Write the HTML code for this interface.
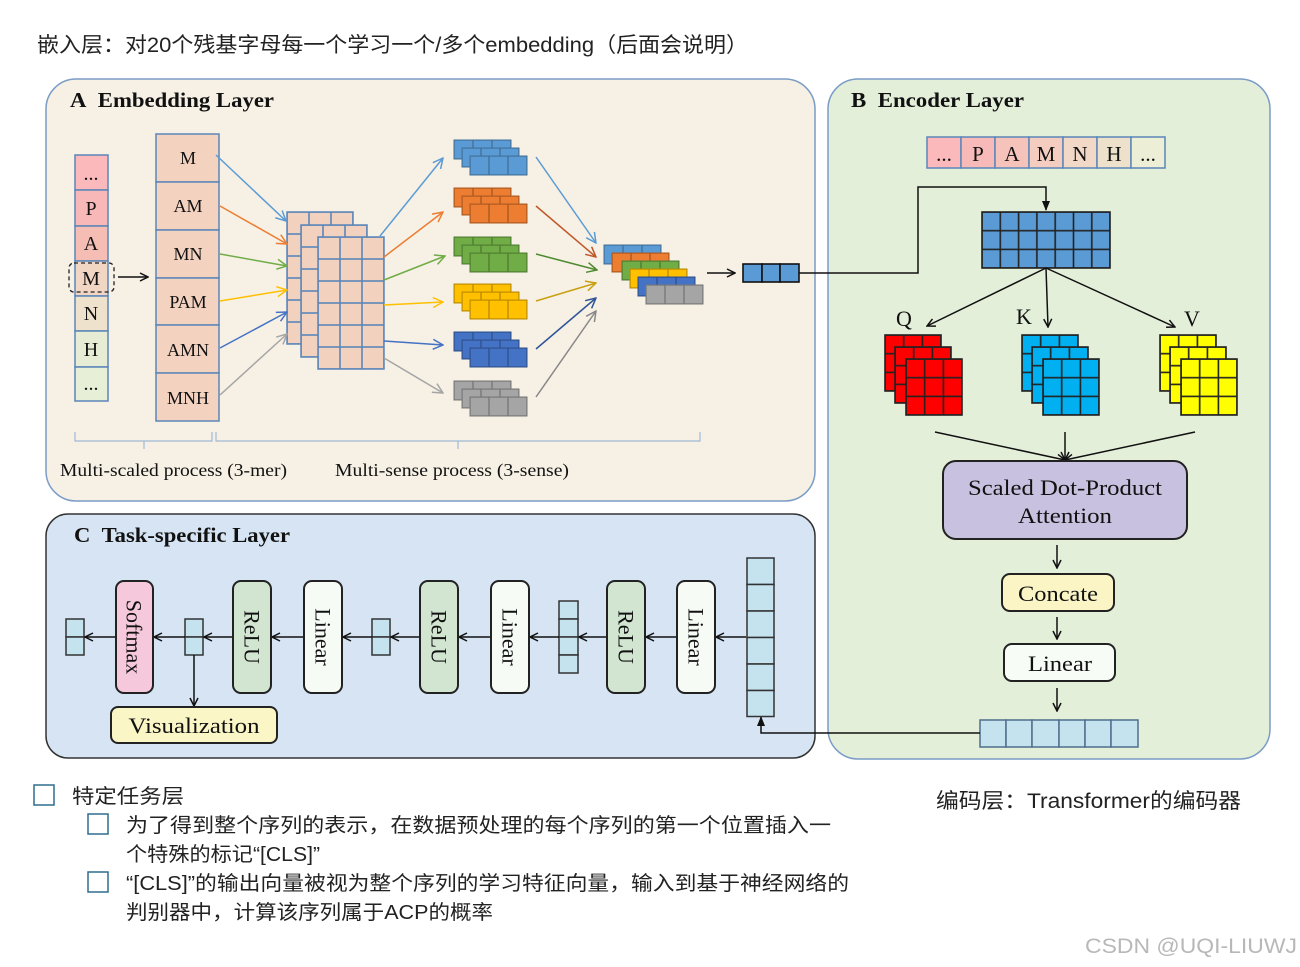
<!DOCTYPE html>
<html><head><meta charset="utf-8"><style>
html,body{margin:0;padding:0;background:#fff;}
svg{display:block;}
.s{font-family:"Liberation Serif","DejaVu Serif",serif;fill:#111;}
.c{font-family:"Liberation Sans","Noto Sans CJK SC",sans-serif;fill:#222;}
</style></head><body>
<svg width="1300" height="967" viewBox="0 0 1300 967" xmlns="http://www.w3.org/2000/svg">
<defs>
<marker id="ab" markerWidth="10" markerHeight="10" refX="9" refY="5" orient="auto" markerUnits="userSpaceOnUse"><path d="M1,1 L9,5 L1,9" fill="none" stroke="#111" stroke-width="1.5"/></marker>
<marker id="af" markerWidth="10" markerHeight="10" refX="9" refY="5" orient="auto" markerUnits="userSpaceOnUse"><path d="M0,1 L10,5 L0,9 z" fill="#111"/></marker>
<marker id="m1" markerWidth="12" markerHeight="12" refX="11" refY="6" orient="auto" markerUnits="userSpaceOnUse"><path d="M1,1 L11,6 L1,11" fill="none" stroke="#5b9bd5" stroke-width="1.5"/></marker>
<marker id="m2" markerWidth="12" markerHeight="12" refX="11" refY="6" orient="auto" markerUnits="userSpaceOnUse"><path d="M1,1 L11,6 L1,11" fill="none" stroke="#ed7d31" stroke-width="1.5"/></marker>
<marker id="m3" markerWidth="12" markerHeight="12" refX="11" refY="6" orient="auto" markerUnits="userSpaceOnUse"><path d="M1,1 L11,6 L1,11" fill="none" stroke="#70ad47" stroke-width="1.5"/></marker>
<marker id="m4" markerWidth="12" markerHeight="12" refX="11" refY="6" orient="auto" markerUnits="userSpaceOnUse"><path d="M1,1 L11,6 L1,11" fill="none" stroke="#ffc000" stroke-width="1.5"/></marker>
<marker id="m5" markerWidth="12" markerHeight="12" refX="11" refY="6" orient="auto" markerUnits="userSpaceOnUse"><path d="M1,1 L11,6 L1,11" fill="none" stroke="#4472c4" stroke-width="1.5"/></marker>
<marker id="m6" markerWidth="12" markerHeight="12" refX="11" refY="6" orient="auto" markerUnits="userSpaceOnUse"><path d="M1,1 L11,6 L1,11" fill="none" stroke="#a5a5a5" stroke-width="1.5"/></marker>
<marker id="m2d" markerWidth="12" markerHeight="12" refX="11" refY="6" orient="auto" markerUnits="userSpaceOnUse"><path d="M1,1 L11,6 L1,11" fill="none" stroke="#c0582a" stroke-width="1.5"/></marker>
<marker id="m3d" markerWidth="12" markerHeight="12" refX="11" refY="6" orient="auto" markerUnits="userSpaceOnUse"><path d="M1,1 L11,6 L1,11" fill="none" stroke="#4e8a2e" stroke-width="1.5"/></marker>
<marker id="m4d" markerWidth="12" markerHeight="12" refX="11" refY="6" orient="auto" markerUnits="userSpaceOnUse"><path d="M1,1 L11,6 L1,11" fill="none" stroke="#c9a010" stroke-width="1.5"/></marker>
<marker id="m5d" markerWidth="12" markerHeight="12" refX="11" refY="6" orient="auto" markerUnits="userSpaceOnUse"><path d="M1,1 L11,6 L1,11" fill="none" stroke="#2f5597" stroke-width="1.5"/></marker>
<marker id="m6d" markerWidth="12" markerHeight="12" refX="11" refY="6" orient="auto" markerUnits="userSpaceOnUse"><path d="M1,1 L11,6 L1,11" fill="none" stroke="#888" stroke-width="1.5"/></marker>

<pattern id="pk" width="22" height="22" patternUnits="userSpaceOnUse"><rect width="22" height="22" fill="#f3d1bf" stroke="#5b86b8" stroke-width="1.6"/></pattern>
<pattern id="sb" width="19" height="19" patternUnits="userSpaceOnUse"><rect width="19" height="19" fill="#5b9bd5" stroke="#41719c" stroke-width="1.4"/></pattern>
<pattern id="so" width="19" height="19" patternUnits="userSpaceOnUse"><rect width="19" height="19" fill="#ed7d31" stroke="#ae5a21" stroke-width="1.4"/></pattern>
<pattern id="sg" width="19" height="19" patternUnits="userSpaceOnUse"><rect width="19" height="19" fill="#70ad47" stroke="#507e32" stroke-width="1.4"/></pattern>
<pattern id="sy" width="19" height="19" patternUnits="userSpaceOnUse"><rect width="19" height="19" fill="#ffc000" stroke="#bc8c00" stroke-width="1.4"/></pattern>
<pattern id="sd" width="19" height="19" patternUnits="userSpaceOnUse"><rect width="19" height="19" fill="#4472c4" stroke="#2f528f" stroke-width="1.4"/></pattern>
<pattern id="sa" width="19" height="19" patternUnits="userSpaceOnUse"><rect width="19" height="19" fill="#a5a5a5" stroke="#787878" stroke-width="1.4"/></pattern>
<pattern id="eb" width="18.3" height="18.7" patternUnits="userSpaceOnUse"><rect width="18.3" height="18.7" fill="#5b9bd5" stroke="#222" stroke-width="1.6"/></pattern>
<pattern id="qr" width="18.7" height="18.7" patternUnits="userSpaceOnUse"><rect width="18.7" height="18.7" fill="#ff0000" stroke="#222" stroke-width="1.6"/></pattern>
<pattern id="kc" width="18.7" height="18.7" patternUnits="userSpaceOnUse"><rect width="18.7" height="18.7" fill="#00b0f0" stroke="#222" stroke-width="1.6"/></pattern>
<pattern id="vy" width="18.7" height="18.7" patternUnits="userSpaceOnUse"><rect width="18.7" height="18.7" fill="#ffff00" stroke="#222" stroke-width="1.6"/></pattern>
</defs>

<rect width="1300" height="967" fill="#fff"/>
<text class="c" x="37" y="52" font-size="21" textLength="711" lengthAdjust="spacingAndGlyphs">嵌入层：对20个残基字母每一个学习一个/多个embedding（后面会说明）</text>

<rect x="46" y="79" width="769" height="422" rx="30" fill="#f6f0e5" stroke="#7a9cc6" stroke-width="1.5"/>
<rect x="828" y="79" width="442" height="680" rx="30" fill="#e4efda" stroke="#7a9cc6" stroke-width="1.5"/>
<rect x="46" y="514" width="769" height="244" rx="22" fill="#d6e4f4" stroke="#333" stroke-width="1.5"/>

<!-- Panel A -->
<text class="s" x="70" y="107" font-size="21" font-weight="bold" textLength="204" lengthAdjust="spacingAndGlyphs">A&#160;&#160;Embedding Layer</text>
<g stroke="#5b86b8" stroke-width="1.5">
<rect x="75" y="155" width="33" height="35" fill="#fbb9bb"/>
<rect x="75" y="190" width="33" height="36" fill="#f9b8b8"/>
<rect x="75" y="226" width="33" height="35" fill="#f5bdb3"/>
<rect x="75" y="261" width="33" height="35" fill="#f1d6c4"/>
<rect x="75" y="296" width="33" height="35" fill="#efe2cc"/>
<rect x="75" y="331" width="33" height="36" fill="#e7ecd5"/>
<rect x="75" y="367" width="33" height="34" fill="#e8efd7"/>
</g>
<g class="s" font-size="20" text-anchor="middle">
<text x="91" y="180">...</text><text x="91" y="215">P</text><text x="91" y="250">A</text><text x="91" y="285">M</text>
<text x="91" y="320">N</text><text x="91" y="356">H</text><text x="91" y="390">...</text>
</g>
<rect x="69" y="263" width="45" height="29" rx="5" fill="none" stroke="#222" stroke-width="1.3" stroke-dasharray="4,3"/>
<line x1="118" y1="277" x2="148" y2="277" stroke="#111" stroke-width="1.5" marker-end="url(#ab)"/>

<g stroke="#5b86b8" stroke-width="1.5" fill="#f4d2c0">
<rect x="156" y="134" width="63" height="48"/><rect x="156" y="182" width="63" height="48"/>
<rect x="156" y="230" width="63" height="48"/><rect x="156" y="278" width="63" height="47"/>
<rect x="156" y="325" width="63" height="48"/><rect x="156" y="373" width="63" height="48"/>
</g>
<g class="s" font-size="18" text-anchor="middle">
<text x="188" y="164">M</text><text x="188" y="212">AM</text><text x="188" y="260">MN</text>
<text x="188" y="308">PAM</text><text x="188" y="356">AMN</text><text x="188" y="404">MNH</text>
</g>

<g transform="translate(287,212)"><rect width="66" height="132" fill="url(#pk)" stroke="#5b86b8" stroke-width="1.5"/></g>
<g transform="translate(301,225)"><rect width="66" height="132" fill="url(#pk)" stroke="#5b86b8" stroke-width="1.5"/></g>
<g transform="translate(318,237)"><rect width="66" height="132" fill="url(#pk)" stroke="#5b86b8" stroke-width="1.5"/></g>

<g stroke-width="1.5" fill="none">
<line x1="216" y1="155" x2="286" y2="221" stroke="#5b9bd5" marker-end="url(#m1)"/>
<line x1="220" y1="206" x2="287" y2="244" stroke="#ed7d31" marker-end="url(#m2)"/>
<line x1="220" y1="254" x2="287" y2="266" stroke="#70ad47" marker-end="url(#m3)"/>
<line x1="220" y1="301" x2="287" y2="290" stroke="#ffc000" marker-end="url(#m4)"/>
<line x1="220" y1="348" x2="287" y2="312" stroke="#4472c4" marker-end="url(#m5)"/>
<line x1="220" y1="395" x2="287" y2="334" stroke="#a5a5a5" marker-end="url(#m6)"/>
<line x1="380" y1="236" x2="443" y2="158" stroke="#5b9bd5" marker-end="url(#m1)"/>
<line x1="384" y1="257" x2="443" y2="212" stroke="#ed7d31" marker-end="url(#m2)"/>
<line x1="384" y1="280" x2="445" y2="256" stroke="#70ad47" marker-end="url(#m3)"/>
<line x1="384" y1="305" x2="443" y2="302" stroke="#ffc000" marker-end="url(#m4)"/>
<line x1="384" y1="341" x2="443" y2="345" stroke="#4472c4" marker-end="url(#m5)"/>
<line x1="384" y1="358" x2="443" y2="393" stroke="#a5a5a5" marker-end="url(#m6)"/>
<line x1="536" y1="157" x2="596" y2="243" stroke="#5b9bd5" marker-end="url(#m1)"/>
<line x1="536" y1="206" x2="596" y2="257" stroke="#c0582a" marker-end="url(#m2d)"/>
<line x1="536" y1="254" x2="597" y2="270" stroke="#4e8a2e" marker-end="url(#m3d)"/>
<line x1="536" y1="301" x2="596" y2="283" stroke="#c9a010" marker-end="url(#m4d)"/>
<line x1="536" y1="349" x2="596" y2="298" stroke="#2f5597" marker-end="url(#m5d)"/>
<line x1="536" y1="397" x2="596" y2="311" stroke="#888" marker-end="url(#m6d)"/>
</g>

<g transform="translate(454,140)"><rect width="57" height="19" fill="url(#sb)" stroke="#41719c"/><g transform="translate(8,8)"><rect width="57" height="19" fill="url(#sb)" stroke="#41719c"/></g><g transform="translate(16,16)"><rect width="57" height="19" fill="url(#sb)" stroke="#41719c"/></g></g>
<g transform="translate(454,188)"><rect width="57" height="19" fill="url(#so)" stroke="#ae5a21"/><g transform="translate(8,8)"><rect width="57" height="19" fill="url(#so)" stroke="#ae5a21"/></g><g transform="translate(16,16)"><rect width="57" height="19" fill="url(#so)" stroke="#ae5a21"/></g></g>
<g transform="translate(454,237)"><rect width="57" height="19" fill="url(#sg)" stroke="#507e32"/><g transform="translate(8,8)"><rect width="57" height="19" fill="url(#sg)" stroke="#507e32"/></g><g transform="translate(16,16)"><rect width="57" height="19" fill="url(#sg)" stroke="#507e32"/></g></g>
<g transform="translate(454,284)"><rect width="57" height="19" fill="url(#sy)" stroke="#bc8c00"/><g transform="translate(8,8)"><rect width="57" height="19" fill="url(#sy)" stroke="#bc8c00"/></g><g transform="translate(16,16)"><rect width="57" height="19" fill="url(#sy)" stroke="#bc8c00"/></g></g>
<g transform="translate(454,332)"><rect width="57" height="19" fill="url(#sd)" stroke="#2f528f"/><g transform="translate(8,8)"><rect width="57" height="19" fill="url(#sd)" stroke="#2f528f"/></g><g transform="translate(16,16)"><rect width="57" height="19" fill="url(#sd)" stroke="#2f528f"/></g></g>
<g transform="translate(454,381)"><rect width="57" height="19" fill="url(#sa)" stroke="#787878"/><g transform="translate(8,8)"><rect width="57" height="19" fill="url(#sa)" stroke="#787878"/></g><g transform="translate(16,16)"><rect width="57" height="19" fill="url(#sa)" stroke="#787878"/></g></g>

<g transform="translate(604,245)"><rect width="57" height="19" fill="url(#sb)" stroke="#41719c"/></g>
<g transform="translate(612,253)"><rect width="57" height="19" fill="url(#so)" stroke="#ae5a21"/></g>
<g transform="translate(622,261)"><rect width="57" height="19" fill="url(#sg)" stroke="#507e32"/></g>
<g transform="translate(630,269)"><rect width="57" height="19" fill="url(#sy)" stroke="#bc8c00"/></g>
<g transform="translate(638,277)"><rect width="57" height="19" fill="url(#sd)" stroke="#2f528f"/></g>
<g transform="translate(646,285)"><rect width="57" height="19" fill="url(#sa)" stroke="#787878"/></g>

<line x1="707" y1="273" x2="735" y2="273" stroke="#111" stroke-width="1.5" marker-end="url(#ab)"/>
<g stroke="#111" stroke-width="1.6" fill="#5b9bd5"><rect x="743" y="264" width="19" height="18"/><rect x="762" y="264" width="18" height="18"/><rect x="780" y="264" width="19" height="18"/></g>
<polyline points="799,273 918,273 918,187 1046,187 1046,210" fill="none" stroke="#111" stroke-width="1.5" marker-end="url(#af)"/>

<path d="M75,432 V441 H144 V449 M144,441 H212 V432" fill="none" stroke="#9fb9d8" stroke-width="1.2"/>
<path d="M216,432 V441 H458 V449 M458,441 H700 V432" fill="none" stroke="#9fb9d8" stroke-width="1.2"/>
<text class="s" x="60" y="476" font-size="18" textLength="227" lengthAdjust="spacingAndGlyphs">Multi-scaled process (3-mer)</text>
<text class="s" x="335" y="476" font-size="18" textLength="234" lengthAdjust="spacingAndGlyphs">Multi-sense process (3-sense)</text>

<!-- Panel B -->
<text class="s" x="851" y="107" font-size="21" font-weight="bold" textLength="173" lengthAdjust="spacingAndGlyphs">B&#160;&#160;Encoder Layer</text>
<g stroke="#5b86b8" stroke-width="1.5">
<rect x="927" y="137" width="34" height="31" fill="#fbb9bb"/><rect x="961" y="137" width="34" height="31" fill="#f8b9b9"/>
<rect x="995" y="137" width="34" height="31" fill="#f6c3bb"/><rect x="1029" y="137" width="34" height="31" fill="#f4cdc0"/>
<rect x="1063" y="137" width="34" height="31" fill="#f2d8c6"/><rect x="1097" y="137" width="34" height="31" fill="#eee1cc"/>
<rect x="1131" y="137" width="34" height="31" fill="#ecefd6"/>
</g>
<g class="s" font-size="21" text-anchor="middle">
<text x="944" y="161">...</text><text x="978" y="161">P</text><text x="1012" y="161">A</text><text x="1046" y="161">M</text>
<text x="1080" y="161">N</text><text x="1114" y="161">H</text><text x="1148" y="161">...</text>
</g>
<g transform="translate(982,212)"><rect width="128" height="56" fill="url(#eb)" stroke="#222" stroke-width="1.6"/></g>
<g stroke="#111" stroke-width="1.5">
<line x1="1046" y1="268" x2="927" y2="326" marker-end="url(#ab)"/>
<line x1="1046" y1="268" x2="1048" y2="327" marker-end="url(#ab)"/>
<line x1="1046" y1="268" x2="1175" y2="327" marker-end="url(#ab)"/>
</g>
<g class="s" font-size="22"><text x="896" y="326">Q</text><text x="1016" y="324">K</text><text x="1184" y="326">V</text></g>
<g transform="translate(885,335)"><rect width="56" height="56" fill="url(#qr)" stroke="#222" stroke-width="1.6"/><g transform="translate(10,12)"><rect width="56" height="56" fill="url(#qr)" stroke="#222" stroke-width="1.6"/></g><g transform="translate(21,24)"><rect width="56" height="56" fill="url(#qr)" stroke="#222" stroke-width="1.6"/></g></g>
<g transform="translate(1022,335)"><rect width="56" height="56" fill="url(#kc)" stroke="#222" stroke-width="1.6"/><g transform="translate(10,12)"><rect width="56" height="56" fill="url(#kc)" stroke="#222" stroke-width="1.6"/></g><g transform="translate(21,24)"><rect width="56" height="56" fill="url(#kc)" stroke="#222" stroke-width="1.6"/></g></g>
<g transform="translate(1160,335)"><rect width="56" height="56" fill="url(#vy)" stroke="#222" stroke-width="1.6"/><g transform="translate(10,12)"><rect width="56" height="56" fill="url(#vy)" stroke="#222" stroke-width="1.6"/></g><g transform="translate(21,24)"><rect width="56" height="56" fill="url(#vy)" stroke="#222" stroke-width="1.6"/></g></g>
<g stroke="#111" stroke-width="1.5">
<line x1="935" y1="432" x2="1065" y2="460" marker-end="url(#ab)"/>
<line x1="1065" y1="432" x2="1065" y2="460" marker-end="url(#ab)"/>
<line x1="1195" y1="432" x2="1065" y2="460" marker-end="url(#ab)"/>
</g>
<rect x="943" y="461" width="244" height="78" rx="13" fill="#c8c1e0" stroke="#222" stroke-width="2"/>
<text class="s" x="1065" y="495" font-size="22" text-anchor="middle" textLength="194" lengthAdjust="spacingAndGlyphs">Scaled Dot-Product</text>
<text class="s" x="1065" y="523" font-size="22" text-anchor="middle" textLength="94" lengthAdjust="spacingAndGlyphs">Attention</text>
<line x1="1057" y1="545" x2="1057" y2="568" stroke="#111" stroke-width="1.5" marker-end="url(#ab)"/>
<rect x="1002" y="574" width="112" height="37" rx="8" fill="#fbf5c6" stroke="#222" stroke-width="2"/>
<text class="s" x="1058" y="601" font-size="22" text-anchor="middle" textLength="80" lengthAdjust="spacingAndGlyphs">Concate</text>
<line x1="1057" y1="617" x2="1057" y2="639" stroke="#111" stroke-width="1.5" marker-end="url(#ab)"/>
<rect x="1004" y="644" width="111" height="37" rx="8" fill="#f8fcf6" stroke="#222" stroke-width="2"/>
<text class="s" x="1060" y="671" font-size="22" text-anchor="middle" textLength="64" lengthAdjust="spacingAndGlyphs">Linear</text>
<line x1="1057" y1="688" x2="1057" y2="711" stroke="#111" stroke-width="1.5" marker-end="url(#ab)"/>
<g stroke="#4f6f8e" stroke-width="1.5" fill="#c5e3ef">
<rect x="980" y="720" width="26" height="27"/><rect x="1006" y="720" width="26" height="27"/><rect x="1032" y="720" width="27" height="27"/>
<rect x="1059" y="720" width="26" height="27"/><rect x="1085" y="720" width="26" height="27"/><rect x="1111" y="720" width="27" height="27"/>
</g>
<polyline points="980,733 761,733 761,717" fill="none" stroke="#111" stroke-width="1.5" marker-end="url(#af)"/>

<!-- Panel C -->
<text class="s" x="74" y="542" font-size="21" font-weight="bold" textLength="216" lengthAdjust="spacingAndGlyphs">C&#160;&#160;Task-specific Layer</text>
<g stroke="#333" stroke-width="1.5" fill="#c5e3ef">
<rect x="747" y="558" width="27" height="26.5"/><rect x="747" y="584.5" width="27" height="26.5"/><rect x="747" y="611" width="27" height="26.5"/>
<rect x="747" y="637.5" width="27" height="26.5"/><rect x="747" y="664" width="27" height="26.5"/><rect x="747" y="690.5" width="27" height="26"/>
<rect x="559" y="601" width="19" height="18"/><rect x="559" y="619" width="19" height="18"/><rect x="559" y="637" width="19" height="18"/><rect x="559" y="655" width="19" height="18"/>
<rect x="372" y="619" width="18" height="18"/><rect x="372" y="637" width="18" height="18"/>
<rect x="185" y="619" width="18" height="18"/><rect x="185" y="637" width="18" height="18"/>
<rect x="66" y="619" width="18" height="18"/><rect x="66" y="637" width="18" height="18"/>
</g>
<g stroke="#111" stroke-width="1.5">
<line x1="746" y1="637" x2="716" y2="637" marker-end="url(#ab)"/>
<line x1="677" y1="637" x2="646" y2="637" marker-end="url(#ab)"/>
<line x1="607" y1="637" x2="579" y2="637" marker-end="url(#ab)"/>
<line x1="559" y1="637" x2="530" y2="637" marker-end="url(#ab)"/>
<line x1="491" y1="637" x2="459" y2="637" marker-end="url(#ab)"/>
<line x1="420" y1="637" x2="391" y2="637" marker-end="url(#ab)"/>
<line x1="372" y1="637" x2="343" y2="637" marker-end="url(#ab)"/>
<line x1="304" y1="637" x2="272" y2="637" marker-end="url(#ab)"/>
<line x1="233" y1="637" x2="204" y2="637" marker-end="url(#ab)"/>
<line x1="185" y1="637" x2="154" y2="637" marker-end="url(#ab)"/>
<line x1="116" y1="637" x2="85" y2="637" marker-end="url(#ab)"/>
<line x1="194" y1="655" x2="194" y2="706" marker-end="url(#ab)"/>
</g>
<g stroke="#222" stroke-width="2">
<rect x="677" y="581" width="38" height="112" rx="8" fill="#f6fbf6"/>
<rect x="607" y="581" width="38" height="112" rx="8" fill="#d1e5d1"/>
<rect x="491" y="581" width="38" height="112" rx="8" fill="#f6fbf6"/>
<rect x="420" y="581" width="38" height="112" rx="8" fill="#d1e5d1"/>
<rect x="304" y="581" width="38" height="112" rx="8" fill="#f6fbf6"/>
<rect x="233" y="581" width="38" height="112" rx="8" fill="#d1e5d1"/>
<rect x="116" y="581" width="37" height="112" rx="8" fill="#f6c8dc"/>
</g>
<g class="s" font-size="22" text-anchor="middle" dominant-baseline="central">
<text transform="translate(696,637) rotate(90)">Linear</text>
<text transform="translate(626,637) rotate(90)">ReLU</text>
<text transform="translate(510,637) rotate(90)">Linear</text>
<text transform="translate(439,637) rotate(90)">ReLU</text>
<text transform="translate(323,637) rotate(90)">Linear</text>
<text transform="translate(252,637) rotate(90)">ReLU</text>
<text transform="translate(134,637) rotate(90)">Softmax</text>
</g>
<rect x="111" y="707" width="166" height="36" rx="7" fill="#fbf6c6" stroke="#222" stroke-width="2"/>
<text class="s" x="194" y="733" font-size="22" text-anchor="middle" textLength="131" lengthAdjust="spacingAndGlyphs">Visualization</text>

<!-- Bottom text -->
<g fill="none" stroke="#2e6e8e" stroke-width="1.5">
<rect x="34" y="785" width="20" height="20"/><rect x="88" y="814" width="20" height="20"/><rect x="88" y="872" width="20" height="20"/>
</g>
<text class="c" x="72" y="803" font-size="20" textLength="112" lengthAdjust="spacingAndGlyphs">特定任务层</text>
<text class="c" x="126" y="832" font-size="20" textLength="705" lengthAdjust="spacingAndGlyphs">为了得到整个序列的表示，在数据预处理的每个序列的第一个位置插入一</text>
<text class="c" x="126" y="861" font-size="20" textLength="194" lengthAdjust="spacingAndGlyphs">个特殊的标记“[CLS]”</text>
<text class="c" x="126" y="890" font-size="20" textLength="723" lengthAdjust="spacingAndGlyphs">“[CLS]”的输出向量被视为整个序列的学习特征向量，输入到基于神经网络的</text>
<text class="c" x="126" y="919" font-size="20" textLength="367" lengthAdjust="spacingAndGlyphs">判别器中，计算该序列属于ACP的概率</text>
<text class="c" x="936" y="808" font-size="21" textLength="305" lengthAdjust="spacingAndGlyphs">编码层：Transformer的编码器</text>
<text x="1085" y="953" font-size="21" fill="#b8b8b8" font-family="Liberation Sans, sans-serif" textLength="212" lengthAdjust="spacingAndGlyphs">CSDN @UQI-LIUWJ</text>
</svg>
</body></html>
